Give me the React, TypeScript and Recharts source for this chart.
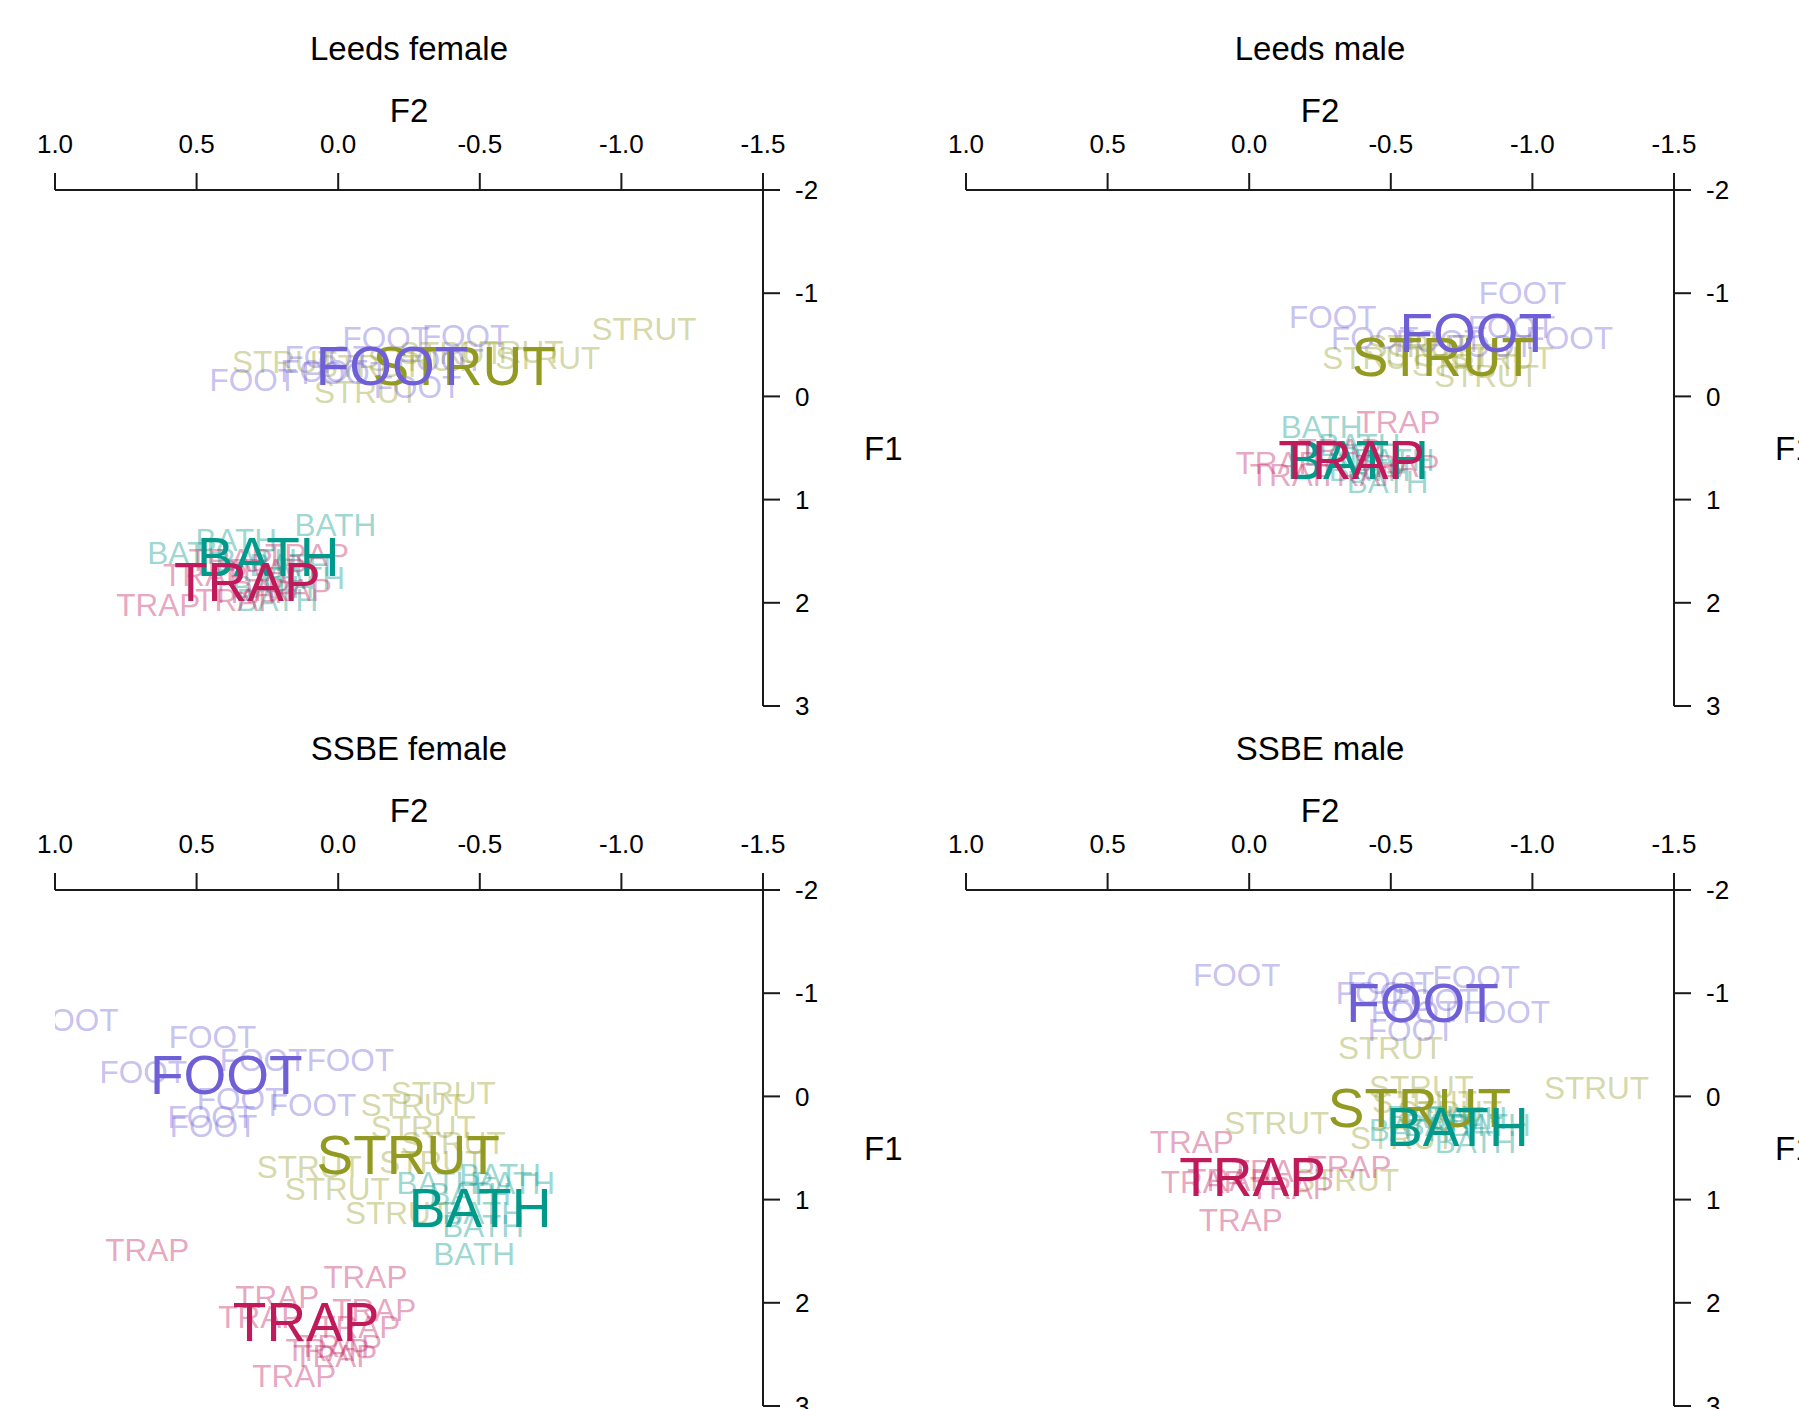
import React from "react";
import { ScatterChart, Scatter, XAxis, YAxis } from "recharts";

// Each point is [F2, F1] (normalised formant values).
type Pt = [number, number];
type Vowel = "STRUT" | "FOOT" | "BATH" | "TRAP";

const F2_TICKS = [1, 0.5, 0, -0.5, -1, -1.5];
const F1_TICKS = [-2, -1, 0, 1, 2, 3];

// ---- Leeds female ----
const leedsFemaleFoot: Pt[] = [
  [-0.17, -0.57], [-0.45, -0.59], [0.3, -0.16], [0.035, -0.38],
  [-0.28, -0.09], [-0.025, -0.23], [-0.36, -0.35], [0.05, -0.25],
];
const leedsFemaleStrut: Pt[] = [
  [-1.08, -0.65], [0.19, -0.33], [-0.1, -0.04], [-0.74, -0.37],
  [-0.61, -0.43], [-0.29, -0.35], [-0.11, -0.29], [-0.4, -0.42],
];
const leedsFemaleBath: Pt[] = [
  [0.01, 1.25], [0.36, 1.39], [0.53, 1.52], [0.12, 1.76],
  [0.215, 1.97], [0.17, 1.63], [0.29, 1.59], [0.23, 1.85],
];
const leedsFemaleTrap: Pt[] = [
  [0.635, 2.02], [0.11, 1.54], [0.47, 1.73], [0.356, 1.97],
  [0.257, 1.68], [0.17, 1.88], [0.38, 1.59], [0.3, 1.9],
];
const leedsFemaleMeans: Record<Vowel, Pt> = {
  STRUT: [-0.445, -0.29], FOOT: [-0.19, -0.29], BATH: [0.247, 1.56], TRAP: [0.321, 1.8],
};

// ---- Leeds male ----
const leedsMaleFoot: Pt[] = [
  [-0.965, -1.0], [-0.295, -0.77], [-1.13, -0.57], [-0.443, -0.57],
  [-0.926, -0.67], [-0.672, -0.54], [-0.85, -0.49],
];
const leedsMaleStrut: Pt[] = [
  [-0.443, -0.37], [-0.838, -0.2], [-0.89, -0.37], [-0.67, -0.4],
  [-0.6, -0.49], [-0.76, -0.3],
];
const leedsMaleBath: Pt[] = [
  [-0.256, 0.3], [-0.489, 0.83], [-0.39, 0.47], [-0.425, 0.71],
  [-0.337, 0.57], [-0.51, 0.62],
];
const leedsMaleTrap: Pt[] = [
  [-0.527, 0.25], [-0.1, 0.65], [-0.15, 0.76], [-0.524, 0.67],
  [-0.32, 0.52], [-0.39, 0.76],
];
const leedsMaleMeans: Record<Vowel, Pt> = {
  STRUT: [-0.686, -0.38], FOOT: [-0.8, -0.61], BATH: [-0.383, 0.62], TRAP: [-0.362, 0.62],
};

// ---- SSBE female ----
const ssbeFemaleFoot: Pt[] = [
  [0.93, -0.74], [0.444, -0.58], [0.688, -0.24], [-0.043, -0.35], [0.264, -0.35],
  [0.091, 0.08], [0.345, 0.03], [0.448, 0.2], [0.44, 0.29],
];
const ssbeFemaleStrut: Pt[] = [
  [-0.371, -0.035], [-0.265, 0.08], [-0.3, 0.3], [-0.406, 0.45],
  [0.102, 0.68], [0.003, 0.9], [-0.209, 1.13], [-0.33, 0.64],
];
const ssbeFemaleBath: Pt[] = [
  [-0.48, 1.53], [-0.35, 0.84], [-0.621, 0.84], [-0.512, 1.26],
  [-0.512, 1.13], [-0.572, 0.76], [-0.466, 0.95],
];
const ssbeFemaleTrap: Pt[] = [
  [0.674, 1.485], [-0.096, 1.746], [0.215, 1.94], [0.275, 2.134], [-0.127, 2.066],
  [-0.071, 2.23], [0.038, 2.453], [0.01, 2.52], [0.155, 2.714], [-0.006, 2.42],
];
const ssbeFemaleMeans: Record<Vowel, Pt> = {
  STRUT: [-0.247, 0.565], FOOT: [0.395, -0.21], BATH: [-0.501, 1.078], TRAP: [0.113, 2.182],
};

// ---- SSBE male ----
const ssbeMaleFoot: Pt[] = [
  [0.044, -1.177], [-0.802, -1.158], [-0.499, -1.1], [-0.46, -1.0],
  [-0.908, -0.82], [-0.584, -0.82], [-0.573, -0.645], [-0.654, -0.935],
];
const ssbeMaleStrut: Pt[] = [
  [-0.499, -0.47], [-1.226, -0.083], [-0.608, -0.093], [-0.097, 0.256],
  [-0.541, 0.4], [-0.344, 0.807], [-0.619, 0.052], [-0.707, 0.15],
];
const ssbeMaleBath: Pt[] = [
  [-0.799, 0.44], [-0.63, 0.198], [-0.767, 0.21], [-0.69, 0.28],
  [-0.566, 0.33], [-0.85, 0.28],
];
const ssbeMaleTrap: Pt[] = [
  [0.203, 0.44], [-0.354, 0.681], [0.164, 0.827], [0.03, 1.195],
  [-0.083, 0.72], [-0.15, 0.885], [0.07, 0.81],
];
const ssbeMaleMeans: Record<Vowel, Pt> = {
  STRUT: [-0.601, 0.11], FOOT: [-0.612, -0.906], BATH: [-0.735, 0.294], TRAP: [-0.012, 0.778],
};

// drawing order: later vowels sit on top
const VOWELS: Vowel[] = ["STRUT", "FOOT", "BATH", "TRAP"];

const COLORS: Record<Vowel, string> = {
  FOOT: "#6f5fd7",
  STRUT: "#939a22",
  BATH: "#00998a",
  TRAP: "#c01a5a",
};

const AXIS_STYLE = { stroke: "#1a1a1a", strokeWidth: 2 };

const toRows = (pts: Pt[]) => pts.map(([f2, f1]) => ({ f2, f1 }));

// Scatter symbol replaced by the vowel word centred on the point
function wordShape(word: string, color: string, size: number, opacity: number) {
  return (props: any) => (
    <text
      x={props.cx}
      y={props.cy}
      textAnchor="middle"
      dominantBaseline="central"
      fontSize={size}
      fill={color}
      fillOpacity={opacity}
    >
      {word}
    </text>
  );
}

interface PanelProps {
  title: string;
  left: number;
  top: number;
  speakers: Record<Vowel, Pt[]>;
  means: Record<Vowel, Pt>;
}

function Panel({ title, left, top, speakers, means }: PanelProps) {
  return (
    <div style={{ position: "absolute", left, top, width: 920, height: 730 }}>
      <div
        style={{
          position: "absolute",
          left: 0,
          top: 32,
          width: 818,
          textAlign: "center",
          fontSize: 33,
          lineHeight: "33px",
          color: "#000",
        }}
      >
        {title}
      </div>
      <ScatterChart width={920} height={730} margin={{ top: 90, right: 37, bottom: 24, left: 55 }}>
        <XAxis
          type="number"
          dataKey="f2"
          orientation="top"
          domain={[-1.5, 1]}
          reversed
          allowDataOverflow
          ticks={F2_TICKS}
          interval={0}
          tickFormatter={(v: number) => v.toFixed(1)}
          height={100}
          tickSize={17}
          tickMargin={20}
          axisLine={AXIS_STYLE}
          tickLine={AXIS_STYLE}
          tick={{ fill: "#000", fontSize: 26 }}
          label={{ value: "F2", position: "insideTop", offset: 9, fill: "#000", fontSize: 33 }}
        />
        <YAxis
          type="number"
          dataKey="f1"
          orientation="right"
          domain={[-2, 3]}
          reversed
          allowDataOverflow
          ticks={F1_TICKS}
          interval={0}
          width={120}
          tickSize={17}
          tickMargin={15}
          axisLine={AXIS_STYLE}
          tickLine={AXIS_STYLE}
          tick={{ fill: "#000", fontSize: 26 }}
          label={{ value: "F1", position: "insideLeft", offset: 101, fill: "#000", fontSize: 33 }}
        />
        {VOWELS.map((v) => (
          <Scatter
            key={`spk-${v}`}
            data={toRows(speakers[v])}
            shape={wordShape(v, COLORS[v], 31.5, 0.4)}
            isAnimationActive={false}
          />
        ))}
        {VOWELS.map((v) => (
          <Scatter
            key={`mean-${v}`}
            data={toRows([means[v]])}
            shape={wordShape(v, COLORS[v], 55, 1)}
            isAnimationActive={false}
          />
        ))}
      </ScatterChart>
    </div>
  );
}

export default function App() {
  return (
    <div
      style={{
        position: "absolute",
        left: 0,
        top: 0,
        width: 1799,
        height: 1409,
        overflow: "hidden",
        background: "#fff",
        fontFamily: "'Liberation Sans', Arial, sans-serif",
      }}
    >
      <Panel
        title="Leeds female"
        left={0}
        top={0}
        speakers={{ STRUT: leedsFemaleStrut, FOOT: leedsFemaleFoot, BATH: leedsFemaleBath, TRAP: leedsFemaleTrap }}
        means={leedsFemaleMeans}
      />
      <Panel
        title="Leeds male"
        left={911}
        top={0}
        speakers={{ STRUT: leedsMaleStrut, FOOT: leedsMaleFoot, BATH: leedsMaleBath, TRAP: leedsMaleTrap }}
        means={leedsMaleMeans}
      />
      <Panel
        title="SSBE female"
        left={0}
        top={700}
        speakers={{ STRUT: ssbeFemaleStrut, FOOT: ssbeFemaleFoot, BATH: ssbeFemaleBath, TRAP: ssbeFemaleTrap }}
        means={ssbeFemaleMeans}
      />
      <Panel
        title="SSBE male"
        left={911}
        top={700}
        speakers={{ STRUT: ssbeMaleStrut, FOOT: ssbeMaleFoot, BATH: ssbeMaleBath, TRAP: ssbeMaleTrap }}
        means={ssbeMaleMeans}
      />
    </div>
  );
}
